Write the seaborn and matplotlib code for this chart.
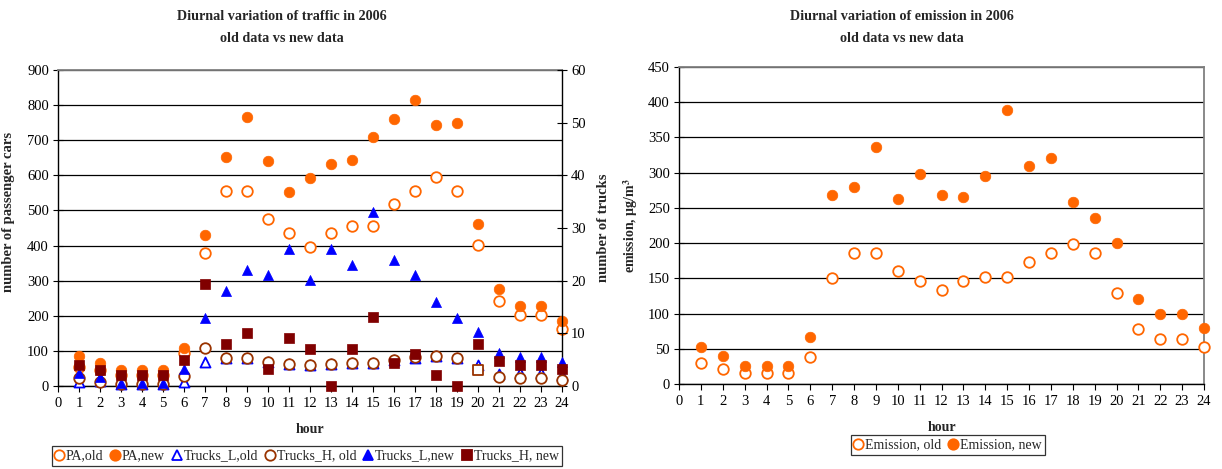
import numpy as np
import pandas as pd
import matplotlib
matplotlib.use("Agg")
import matplotlib.pyplot as plt
from matplotlib.lines import Line2D
import seaborn as sns

# ---- data -------------------------------------------------------------
hours = list(range(1, 25))

# passenger cars (left axis)
pa_old = [55, 45, 30, 30, 30, 95, 378, 556, 556, 477, 437, 397, 437, 457, 457,
          517, 556, 596, 556, 402, 242, 201, 201, 161]
pa_new = [85, 66, 45, 45, 45, 108, 431, 651, 767, 640, 553, 592, 632, 644, 709,
          760, 815, 744, 748, 460, 275, 229, 229, 185]

# trucks (right axis)
trucks_l_old = [0.8, 1.0, 0.3, 0.3, 0.3, 0.8, 4.6, 5.4, 5.4, 4.6, 4.2, 3.9, 4.2,
                4.4, 4.4, 5.0, 5.4, 5.7, 5.4, 4.0, 2.3, 2.4, 2.4, 2.1]
trucks_h_old = [1.5, 0.8, 0.3, 0.3, 0.3, 1.9, 7.2, 5.4, 5.4, 4.6, 4.2, 3.9, 4.2,
                4.4, 4.4, 5.0, 5.6, 5.7, 5.3, 3.0, 1.8, 1.5, 1.5, 1.1]
trucks_l_new = [2.5, 1.8, 0.6, 0.6, 0.6, 3.2, 12.9, 18.1, 22.0, 21.0, 26.0, 20.1,
                26.1, 23.0, 33.0, 23.9, 21.0, 16.0, 13.0, 10.3, 6.3, 5.6, 5.6, 4.5]
trucks_h_new = [4.0, 3.0, 2.1, 2.1, 2.1, 4.9, 19.4, 8.0, 10.1, 3.2, 9.1, 7.0, 0.0,
                7.1, 13.1, 4.3, 6.1, 2.1, 0.0, 8.0, 4.8, 4.0, 4.0, 3.2]

# emission (second chart)
emission_old = [30, 22, 15, 15, 15, 38, 150, 186, 186, 160, 146, 133, 146, 152,
                152, 173, 186, 199, 186, 129, 78, 64, 64, 52]
emission_new = [53, 40, 26, 26, 26, 67, 268, 280, 337, 263, 298, 269, 266, 295,
                389, 310, 321, 259, 235, 200, 120, 100, 100, 79]

x_ticks = list(range(0, 25))
cars_ticks = list(range(0, 901, 100))
truck_ticks = list(range(0, 61, 10))
emis_ticks = list(range(0, 451, 50))

# ---- style ------------------------------------------------------------
sns.set_theme(style="white")
plt.rcParams["font.family"] = ["Liberation Serif", "DejaVu Serif"]
plt.rcParams["mathtext.fontset"] = "stix"

ORANGE = "#FF6600"
BLUE = "#0000FF"
BROWN = "#993300"
DARKRED = "#800000"
GRID = "#000000"
BORDER = "#808080"

TICK_FS = 10.5
LABEL_FS = 10
YLABEL_FS = 10.5
TITLE_FS = 10.2
LEG_FS = 10
S = 58

fig = plt.figure(figsize=(12.22, 4.69), dpi=100)
W, H = 1222, 469


def px_axes(x0, y0, x1, y1):
    return fig.add_axes([x0 / W, 1 - y1 / H, (x1 - x0) / W, (y1 - y0) / H])


def style_axis(ax, ymax, yticks):
    ax.set_xlim(0, 24)
    ax.set_ylim(0, ymax)
    ax.set_xticks(x_ticks)
    ax.set_yticks(yticks)
    ax.yaxis.grid(True, color=GRID, linewidth=0.9)
    ax.xaxis.grid(False)
    ax.set_axisbelow(True)
    ax.tick_params(axis="x", direction="out", length=4, width=0.8,
                   labelsize=TICK_FS, pad=4, colors="black", bottom=True)
    ax.tick_params(axis="y", direction="inout", length=7, width=0.8,
                   labelsize=TICK_FS, pad=3, colors="black", left=True)
    for side in ("left", "bottom"):
        ax.spines[side].set_color("black")
        ax.spines[side].set_linewidth(1.0)
    ax.spines["top"].set_color(BORDER)
    ax.spines["top"].set_linewidth(1.3)


def dots(ax, x, y, marker, face, edge, size=S, lw=1.3):
    df = pd.DataFrame({"hour": x, "value": y})
    sns.scatterplot(data=df, x="hour", y="value", ax=ax, marker=marker,
                    s=size, color=face, edgecolor=edge, linewidth=lw,
                    clip_on=False, legend=False, zorder=3)


# ---- traffic chart ----------------------------------------------------
ax1 = px_axes(58, 70, 562, 386)
style_axis(ax1, 900, cars_ticks)
ax1.spines["right"].set_visible(False)

dots(ax1, hours, pa_old, "o", "white", ORANGE)
dots(ax1, hours, pa_new, "o", ORANGE, ORANGE, lw=0.5)

ax1b = ax1.twinx()
ax1b.set_ylim(0, 60)
ax1b.set_yticks(truck_ticks)
ax1b.grid(False)
for side in ("left", "top", "bottom"):
    ax1b.spines[side].set_visible(False)
ax1b.spines["right"].set_color("black")
ax1b.spines["right"].set_linewidth(1.0)
ax1b.tick_params(axis="y", direction="inout", length=7, width=0.8,
                 labelsize=TICK_FS, pad=3, right=True, colors="black")

dots(ax1b, hours, trucks_l_old, "^", "white", BLUE, size=S * 0.9)
h_old_sq = [h == 20 for h in hours]
dots(ax1b, [h for h, q in zip(hours, h_old_sq) if not q],
     [v for v, q in zip(trucks_h_old, h_old_sq) if not q], "o", "white", BROWN)
dots(ax1b, [h for h, q in zip(hours, h_old_sq) if q],
     [v for v, q in zip(trucks_h_old, h_old_sq) if q], "s", "white", BROWN,
     size=S * 0.85)
dots(ax1b, hours, trucks_l_new, "^", BLUE, BLUE, size=S * 0.9, lw=0.5)
dots(ax1b, hours, trucks_h_new, "s", DARKRED, DARKRED, size=S * 0.85, lw=0.5)

ax1.set_xlabel("hour", fontsize=LABEL_FS, fontweight="bold", labelpad=9)
ax1.set_ylabel("number of passenger cars", fontsize=YLABEL_FS,
               fontweight="bold", labelpad=8)
ax1.yaxis.set_label_coords(-0.085, 0.55)
ax1b.set_ylabel("number of trucks", fontsize=YLABEL_FS, fontweight="bold",
                labelpad=8)
ax1b.set_xlabel("")

fig.text(282 / W, 1 - 17 / H, "Diurnal variation of traffic in 2006",
         ha="center", va="center", fontsize=TITLE_FS, fontweight="bold")
fig.text(282 / W, 1 - 39 / H, "old data vs new data",
         ha="center", va="center", fontsize=TITLE_FS, fontweight="bold")


def h(marker, face, edge, ms=7.5):
    return Line2D([], [], linestyle="none", marker=marker, markersize=ms,
                  markerfacecolor=face, markeredgecolor=edge,
                  markeredgewidth=1.3)


handles1 = [h("o", "white", ORANGE), h("o", ORANGE, ORANGE),
            h("^", "white", BLUE), h("o", "white", BROWN),
            h("^", BLUE, BLUE), h("s", DARKRED, DARKRED, 7)]
labels1 = ["PA,old", "PA,new", "Trucks_L,old", "Trucks_H, old",
           "Trucks_L,new", "Trucks_H, new"]
leg1 = fig.legend(handles1, labels1, loc="center", ncol=6,
                  bbox_to_anchor=(307 / W, 1 - 456 / H), fontsize=LEG_FS,
                  frameon=True, fancybox=False, edgecolor="black",
                  handlelength=0.5, handletextpad=0.25, columnspacing=0.6,
                  borderpad=0.25, borderaxespad=0)
leg1.get_frame().set_linewidth(0.9)

# ---- emission chart ---------------------------------------------------
ax2 = px_axes(679, 67, 1204, 384)
style_axis(ax2, 450, emis_ticks)
ax2.spines["right"].set_color(BORDER)
ax2.spines["right"].set_linewidth(1.3)

dots(ax2, hours, emission_old, "o", "white", ORANGE)
dots(ax2, hours, emission_new, "o", ORANGE, ORANGE, lw=0.5)

ax2.set_xlabel("hour", fontsize=LABEL_FS, fontweight="bold", labelpad=9)
ax2.set_ylabel("emission, μg/m$^{\\mathbf{3}}$", fontsize=YLABEL_FS - 0.5,
               fontweight="bold", labelpad=6)

fig.text(902 / W, 1 - 17 / H, "Diurnal variation of emission in 2006",
         ha="center", va="center", fontsize=TITLE_FS, fontweight="bold")
fig.text(902 / W, 1 - 39 / H, "old data vs new data",
         ha="center", va="center", fontsize=TITLE_FS, fontweight="bold")

handles2 = [h("o", "white", ORANGE), h("o", ORANGE, ORANGE)]
labels2 = ["Emission, old", "Emission, new"]
leg2 = fig.legend(handles2, labels2, loc="center", ncol=2,
                  bbox_to_anchor=(948 / W, 1 - 445 / H), fontsize=LEG_FS,
                  frameon=True, fancybox=False, edgecolor="black",
                  handlelength=0.5, handletextpad=0.25, columnspacing=0.6,
                  borderpad=0.25, borderaxespad=0)
leg2.get_frame().set_linewidth(0.9)

fig.savefig("out.png", dpi=100, facecolor="white")
